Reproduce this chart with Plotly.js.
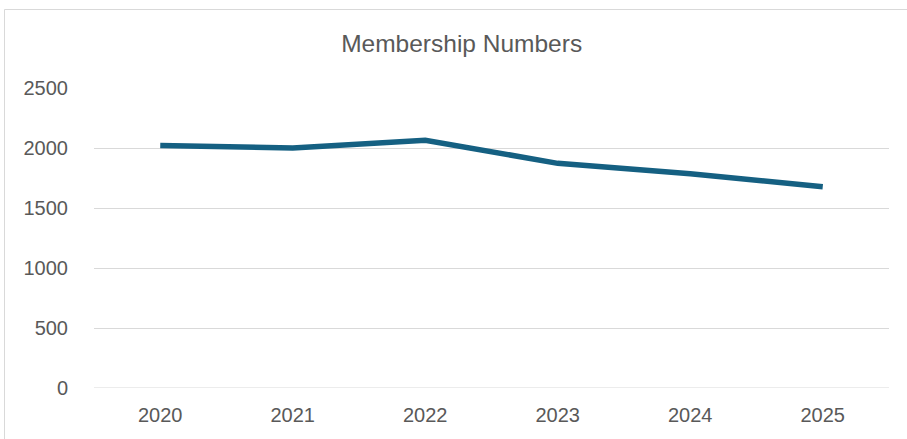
<!DOCTYPE html>
<html>
<head>
<meta charset="utf-8">
<script src="https://cdn.plot.ly/plotly-3.0.1.min.js"></script>
<style>html,body{margin:0;padding:0;background:#fff;}#chart{width:907px;height:439px;}</style>
</head>
<body>
<div id="chart"></div>
<script>
const years = ["2020", "2021", "2022", "2023", "2024", "2025"];
const members = [2020, 2000, 2065, 1872, 1785, 1678];
const yTicks = [0, 500, 1000, 1500, 2000, 2500];

const trace = {
  x: years,
  y: members,
  type: "scatter",
  mode: "lines",
  line: {color: "#156082", width: 5.5},
  hoverinfo: "x+y"
};

const layout = {
  width: 907,
  height: 439,
  margin: {l: 94, r: 18, t: 88, b: 51},
  paper_bgcolor: "#ffffff",
  plot_bgcolor: "#ffffff",
  font: {family: "Liberation Sans, Arial, sans-serif", color: "#595959"},
  title: {
    text: "Membership Numbers",
    font: {size: 24.5, color: "#595959", family: "Liberation Sans, Arial, sans-serif"},
    x: 0.509, xanchor: "center",
    y: 0.9, yanchor: "middle", yref: "container"
  },
  showlegend: false,
  xaxis: {
    type: "category",
    range: [-0.5, 5.5],
    showgrid: false,
    zeroline: false,
    showline: false,
    ticks: "",
    tickfont: {size: 20, color: "#595959"},
    ticklabelstandoff: 13,
    fixedrange: true
  },
  yaxis: {
    range: [0, 2500],
    tickvals: yTicks,
    ticktext: yTicks.map(String),
    showgrid: true,
    gridcolor: "#d9d9d9",
    gridwidth: 1,
    zeroline: false,
    showline: false,
    ticks: "",
    tickfont: {size: 20, color: "#595959"},
    ticklabelstandoff: 25,
    fixedrange: true
  },
  shapes: [
    {type: "line", xref: "paper", yref: "paper", x0: (4.5-94)/795, x1: 1.2, y0: (388-9.5)/300, y1: (388-9.5)/300, line: {color: "#d9d9d9", width: 1}},
    {type: "line", xref: "paper", yref: "paper", x0: (4.5-94)/795, x1: (4.5-94)/795, y0: (388-9.5)/300, y1: -0.3, line: {color: "#d9d9d9", width: 1}},
    {type: "line", xref: "paper", yref: "y", x0: 0, x1: 1, y0: 0, y1: 0, layer: "below", line: {color: "#d9d9d9", width: 1}}
  ]
};

Plotly.newPlot("chart", [trace], layout, {displayModeBar: false, staticPlot: true});
</script>
</body>
</html>
